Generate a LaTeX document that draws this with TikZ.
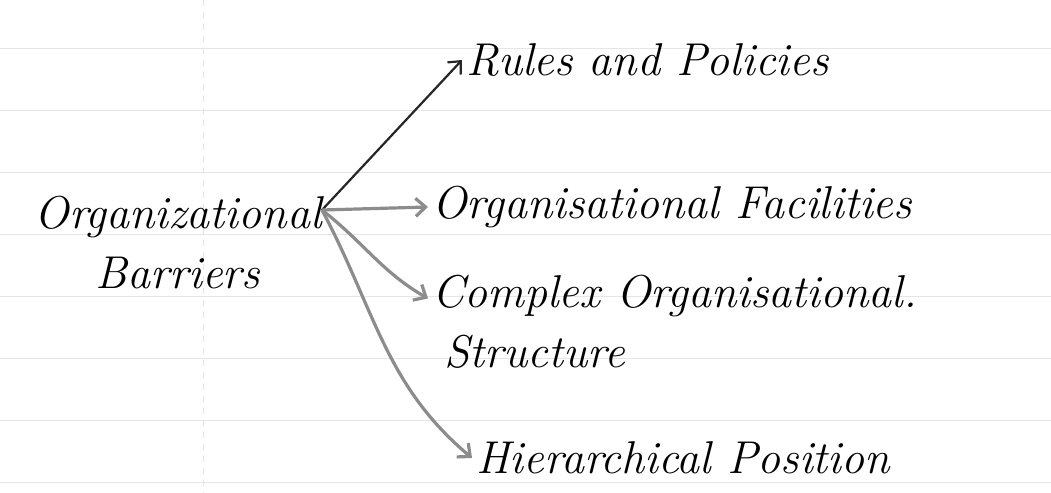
\documentclass[tikz,border=0pt]{standalone}
\usetikzlibrary{arrows.meta,calc}
\begin{document}
\begin{tikzpicture}[x=0.5pt,y=-0.5pt,
  hand/.style={font=\fontsize{23}{30}\selectfont\itshape, inner sep=2pt},
  ink/.style={line width=1.1pt, black!85, -{Straight Barb[length=5pt,width=9pt]}},
  pencil/.style={line width=1.6pt, black!45, -{Straight Barb[length=5pt,width=9pt]}},
  rule/.style={line width=0.5pt, black!10}]
\useasboundingbox (0,0) rectangle (1051,493);
\fill[white] (0,0) rectangle (1051,493);
% ruled paper
\foreach \yy in {48,110,172,234,296,358,420,482}
  \draw[rule] (0,\yy) -- (1051,\yy);
\draw[rule, dashed] (203,0) -- (203,493);
% nodes
\node[hand, align=center] (org) at (178,243) {Organizational\\Barriers};
\coordinate (hub) at (322,210);
\node[hand, anchor=west] (rules) at (462,60) {Rules and Policies};
\node[hand, anchor=west] (fac) at (428,207) {Organisational Facilities};
\node[hand, anchor=west, align=left] (cplx) at (428,322) {Complex Organisational.\\\hspace*{6pt}Structure};
\node[hand, anchor=west] (hier) at (472,458) {Hierarchical Position};
\coordinate (cplxin) at ($(cplx.north west)!0.27!(cplx.south west)$);
% connectors
\draw[ink] (hub) -- (rules.west);
\draw[pencil] (hub) -- (fac.west);
\draw[pencil] (hub) to[out=-38,in=150] (cplxin);
\draw[pencil] (hub) to[out=-62,in=140] (hier.west);
\end{tikzpicture}
\end{document}
